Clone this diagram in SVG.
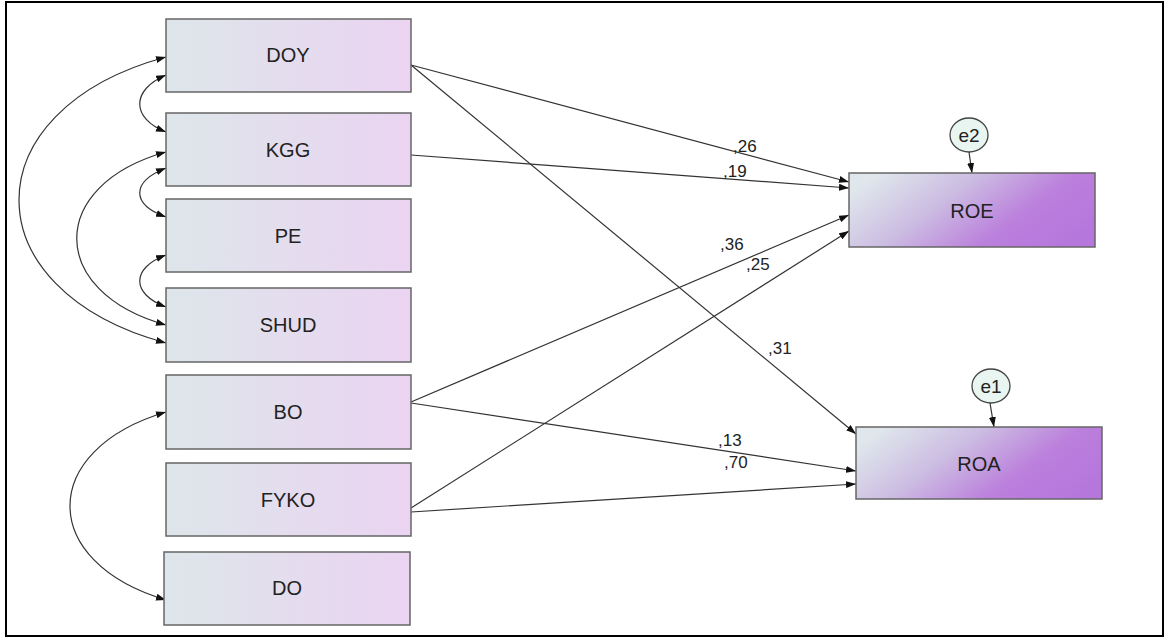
<svg xmlns="http://www.w3.org/2000/svg" width="1166" height="639" viewBox="0 0 1166 639">
<defs>
<linearGradient id="gIn" x1="0" y1="0" x2="1" y2="0">
<stop offset="0" stop-color="#dde6ea"/>
<stop offset="1" stop-color="#ebd4f2"/>
</linearGradient>
<linearGradient id="gOut" x1="0" y1="0.3" x2="1" y2="0.7">
<stop offset="0" stop-color="#dfe6ec"/>
<stop offset="0.35" stop-color="#ccbde2"/>
<stop offset="0.7" stop-color="#bb7fdc"/>
<stop offset="1" stop-color="#b677dd"/>
</linearGradient>
<marker id="ah" viewBox="0 0 10 7" refX="10" refY="3.5" markerWidth="10" markerHeight="7" markerUnits="userSpaceOnUse" orient="auto-start-reverse">
<path d="M0,0 L10,3.5 L0,7 z" fill="#111"/>
</marker>
<style>
.box{stroke:#666;stroke-width:1.5}
.in{fill:url(#gIn)}
.out{fill:url(#gOut)}
.err{fill:#e9f5f0;stroke:#444;stroke-width:1.3}
.t{font-family:"Liberation Sans",Arial,sans-serif;font-size:20px;fill:#222;text-anchor:middle;dominant-baseline:central}
.te{font-family:"Liberation Sans",Arial,sans-serif;font-size:19px;fill:#222;text-anchor:middle;dominant-baseline:central}
.lbl{font-family:"Liberation Sans",Arial,sans-serif;font-size:17px;fill:#222}
.p{fill:none;stroke:#333;stroke-width:1.2;marker-end:url(#ah)}
.cov{fill:none;stroke:#333;stroke-width:1.2;marker-start:url(#ah);marker-end:url(#ah)}
</style>
</defs>
<rect x="0" y="0" width="1166" height="639" fill="#fff"/>
<rect x="6" y="2" width="1157" height="634" fill="none" stroke="#000" stroke-width="2"/>

<g id="connectors">
<path class="cov" d="M166,75 C131,90 131,118 166,132"/>
<path class="cov" d="M166,168 C131,182 131,204 166,217"/>
<path class="cov" d="M166,255 C131,268 131,294 166,307"/>
<path class="cov" d="M166,57 C-30,110 -30,290 166,343"/>
<path class="cov" d="M166,152 C47,185 47,292 166,325"/>
<path class="cov" d="M166,412 C38,450 38,562 166,600"/>
<line class="p" x1="411" y1="65" x2="849" y2="182"/>
<line class="p" x1="411" y1="155" x2="849" y2="188"/>
<line class="p" x1="411" y1="402" x2="849" y2="215"/>
<line class="p" x1="411" y1="508" x2="849" y2="231"/>
<line class="p" x1="411" y1="65" x2="856" y2="434"/>
<line class="p" x1="411" y1="403" x2="856" y2="471"/>
<line class="p" x1="411" y1="512" x2="856" y2="484"/>
<line class="p" x1="969" y1="152" x2="972" y2="173"/>
<line class="p" x1="990" y1="403" x2="994" y2="427"/>
<text class="lbl" x="733" y="152">,26</text>
<text class="lbl" x="723" y="177">,19</text>
<text class="lbl" x="720" y="250">,36</text>
<text class="lbl" x="746" y="270">,25</text>
<text class="lbl" x="768" y="354">,31</text>
<text class="lbl" x="718" y="446">,13</text>
<text class="lbl" x="724" y="468">,70</text>
</g>

<g id="DOY"><rect class="box in" x="166" y="19" width="245" height="73"/><text class="t" x="288" y="55">DOY</text></g>
<g id="KGG"><rect class="box in" x="166" y="113" width="245" height="73"/><text class="t" x="288" y="150">KGG</text></g>
<g id="PE"><rect class="box in" x="166" y="199" width="245" height="73"/><text class="t" x="288" y="236">PE</text></g>
<g id="SHUD"><rect class="box in" x="166" y="288" width="245" height="74"/><text class="t" x="288" y="325">SHUD</text></g>
<g id="BO"><rect class="box in" x="166" y="375" width="245" height="74"/><text class="t" x="288" y="412">BO</text></g>
<g id="FYKO"><rect class="box in" x="166" y="463" width="245" height="73"/><text class="t" x="288" y="500">FYKO</text></g>
<g id="DO"><rect class="box in" x="164" y="552" width="246" height="73"/><text class="t" x="287" y="588">DO</text></g>
<g id="ROE"><rect class="box out" x="849" y="173" width="246" height="74"/><text class="t" x="972" y="211">ROE</text></g>
<g id="ROA"><rect class="box out" x="856" y="427" width="246" height="72"/><text class="t" x="979" y="464">ROA</text></g>
<g id="e2"><ellipse class="err" cx="969" cy="135" rx="19" ry="17"/><text class="te" x="969" y="135">e2</text></g>
<g id="e1"><ellipse class="err" cx="991" cy="386" rx="19" ry="17"/><text class="te" x="991" y="386">e1</text></g>
</svg>
